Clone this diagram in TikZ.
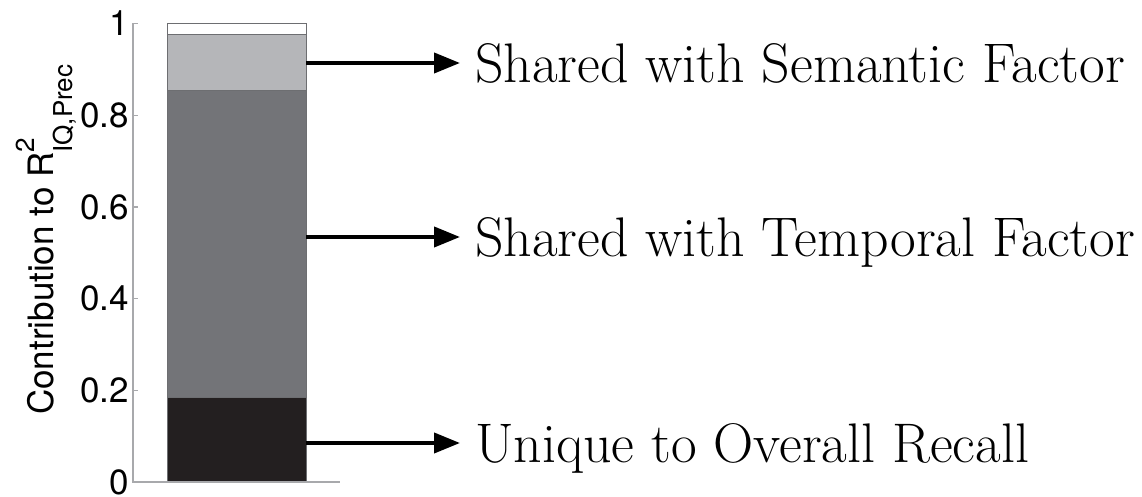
\documentclass[tikz,border=0pt]{standalone}
\usepackage{fontspec}
\newfontfamily\helv{TeX Gyre Heros}
\usetikzlibrary{arrows.meta}
\definecolor{axisgray}{HTML}{A8A9AC}
\definecolor{edgegray}{HTML}{6D6E71}
\definecolor{lightseg}{HTML}{B5B6B9}
\definecolor{darkseg}{HTML}{737478}
\definecolor{blackseg}{HTML}{231F20}
\tikzset{
  axisline/.style={draw=axisgray, line width=1.3pt},
  tickmark/.style={draw=axisgray, line width=1.3pt},
  segment/.style={draw=edgegray, line width=0.9pt},
  pointer/.style={line width=4pt, -{Triangle[length=26pt,width=20pt]}, shorten >=15pt},
  ticklab/.style={anchor=east, inner sep=0pt, font=\helv\fontsize{35}{35}\selectfont},
  sidelab/.style={anchor=base west, inner sep=0pt, font=\fontsize{55.8}{64}\selectfont},
}
\begin{document}
\begin{tikzpicture}[x=1pt,y=1pt]
\useasboundingbox (0,0) rectangle (1142,497);
% bar segments (y: 0 -> 15, 1 -> 473.5)
\fill[white] (167,462.5) rectangle (306,473.5);
\fill[lightseg] (167,406.1) rectangle (306,462.5);
\fill[darkseg] (167,99.4) rectangle (306,406.1);
\fill[blackseg] (167,15) rectangle (306,99.4);
\draw[segment] (167,15) rectangle (306,473.5);
\draw[segment] (167,462.5) -- (306,462.5);
\draw[segment] (167,406.1) -- (306,406.1);
\draw[segment] (167,99.4) -- (306,99.4);
% axes
\draw[axisline] (133,473.5) -- (133,15) -- (340,15);
\foreach \v/\y in {0/15, 0.2/106.7, 0.4/198.4, 0.6/290.1, 0.8/381.8, 1/473.5}{
  \draw[tickmark] (133,\y) -- (137.5,\y);
  \node[ticklab] at (129,\y) {\v};
}
% y label
\node[rotate=90, anchor=base west, inner sep=0pt, font=\helv\fontsize{35}{35}\selectfont] (ylab) at (53,82)
  {Contribution to R\rlap{\raisebox{18pt}{\fontsize{26}{26}\selectfont 2}}\raisebox{-20pt}{\fontsize{26}{26}\selectfont IQ,Prec}};
% arrow start points
\coordinate (a1) at (306,434);
\coordinate (a2) at (306,260);
\coordinate (a3) at (306,54);
% labels
\node[sidelab] (t1) at (475,414) {Shared with Semantic Factor};
\node[sidelab] (t2) at (475,240.5) {Shared with Temporal Factor};
\node[sidelab] (t3) at (475,34.5) {Unique to Overall Recall};
% arrows
\draw[pointer] (a1) -- (a1 -| t1.west);
\draw[pointer] (a2) -- (a2 -| t2.west);
\draw[pointer] (a3) -- (a3 -| t3.west);
\end{tikzpicture}
\end{document}
